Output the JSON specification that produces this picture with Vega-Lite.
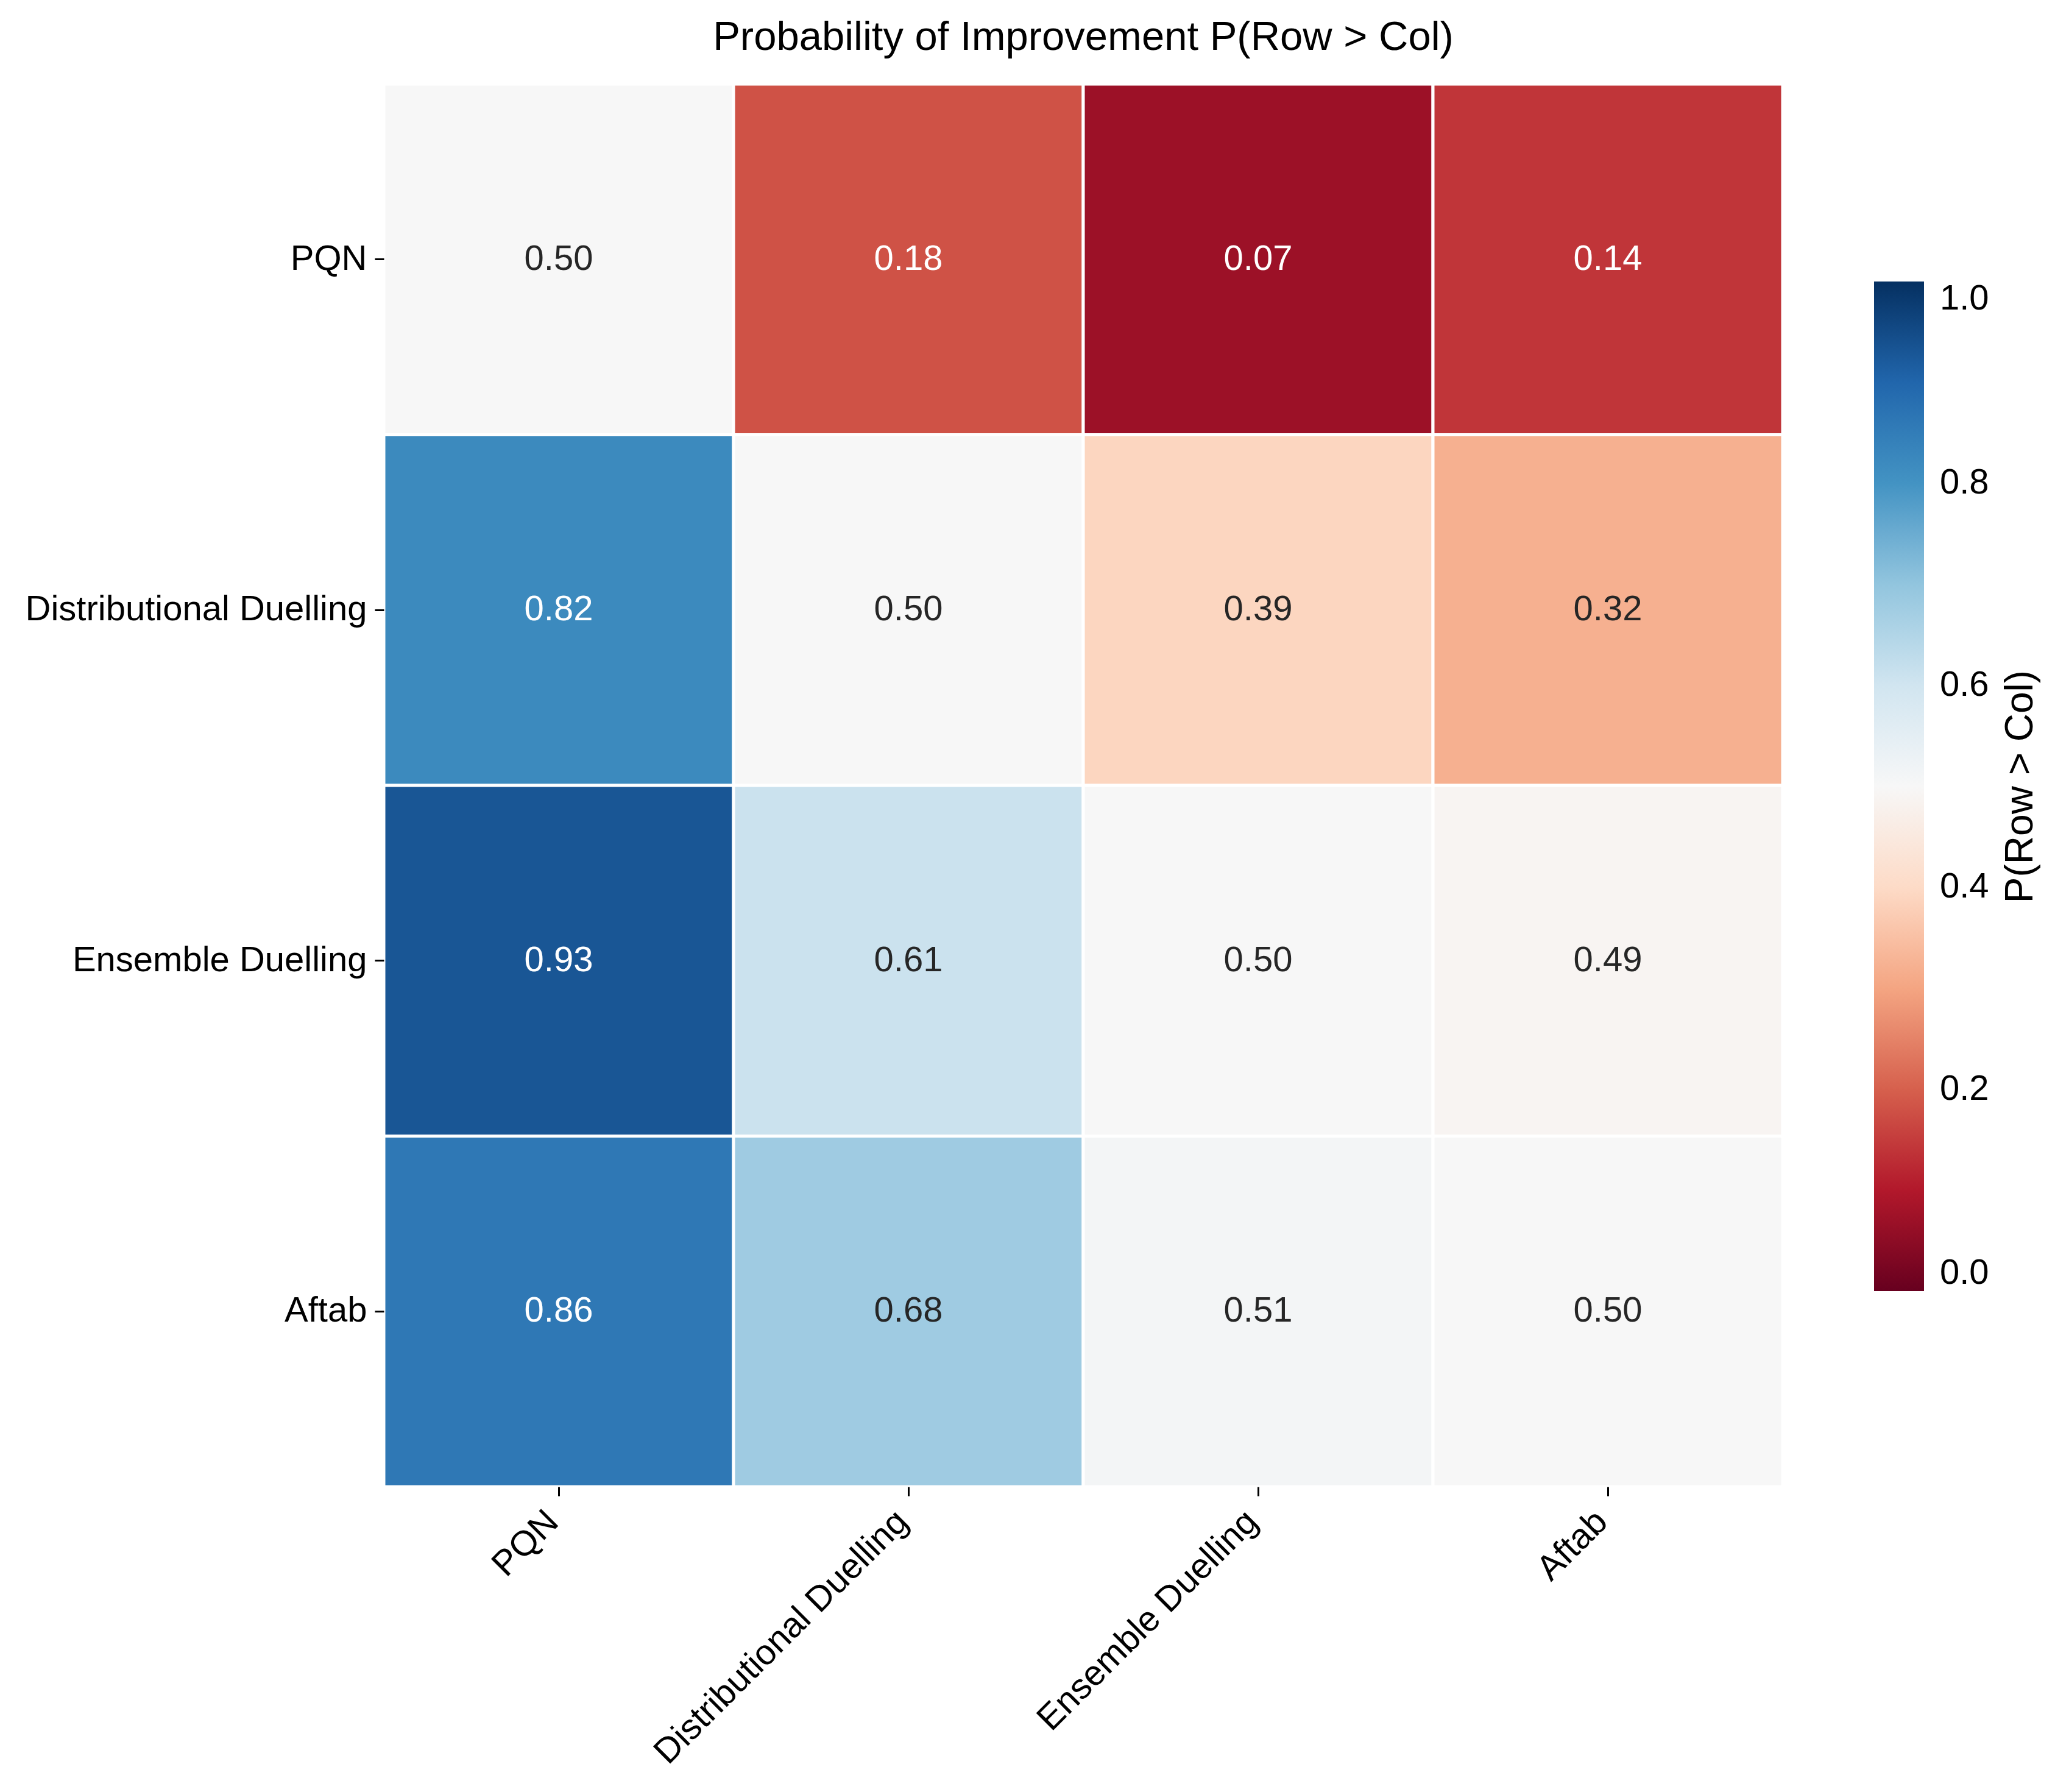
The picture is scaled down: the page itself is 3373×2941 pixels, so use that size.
{
  "$schema": "https://vega.github.io/schema/vega-lite/v6.json",
  "autosize": {"type": "none"},
  "padding": {"left": 630, "top": 138, "right": 447, "bottom": 501},
  "width": 2296,
  "height": 2302,
  "background": "white",
  "config": {
    "font": "Liberation Sans",
    "view": {"stroke": null},
    "title": {"fontSize": 67, "fontWeight": "normal", "color": "#000000", "anchor": "middle", "offset": 40, "font": "Liberation Sans"},
    "axis": {"labelFont": "Liberation Sans", "labelFontSize": 58, "labelColor": "#000000", "labelLimit": 0, "tickColor": "#000000", "tickWidth": 3, "tickSize": 15, "labelPadding": 13, "domain": false, "grid": false, "title": null}
  },
  "title": "Probability of Improvement P(Row > Col)",
  "data": {
    "values": [
      {"row": "PQN", "col": "PQN", "p": 0.50},
      {"row": "PQN", "col": "Distributional Duelling", "p": 0.18},
      {"row": "PQN", "col": "Ensemble Duelling", "p": 0.07},
      {"row": "PQN", "col": "Aftab", "p": 0.14},
      {"row": "Distributional Duelling", "col": "PQN", "p": 0.82},
      {"row": "Distributional Duelling", "col": "Distributional Duelling", "p": 0.50},
      {"row": "Distributional Duelling", "col": "Ensemble Duelling", "p": 0.39},
      {"row": "Distributional Duelling", "col": "Aftab", "p": 0.32},
      {"row": "Ensemble Duelling", "col": "PQN", "p": 0.93},
      {"row": "Ensemble Duelling", "col": "Distributional Duelling", "p": 0.61},
      {"row": "Ensemble Duelling", "col": "Ensemble Duelling", "p": 0.50},
      {"row": "Ensemble Duelling", "col": "Aftab", "p": 0.49},
      {"row": "Aftab", "col": "PQN", "p": 0.86},
      {"row": "Aftab", "col": "Distributional Duelling", "p": 0.68},
      {"row": "Aftab", "col": "Ensemble Duelling", "p": 0.51},
      {"row": "Aftab", "col": "Aftab", "p": 0.50}
    ]
  },
  "encoding": {
    "x": {
      "field": "col", "type": "nominal",
      "sort": ["PQN", "Distributional Duelling", "Ensemble Duelling", "Aftab"],
      "scale": {"paddingInner": 0, "paddingOuter": 0},
      "axis": {"labelAngle": -45, "labelAlign": "right", "labelBaseline": "top", "labelOffset": -30, "orient": "bottom"}
    },
    "y": {
      "field": "row", "type": "nominal",
      "sort": ["PQN", "Distributional Duelling", "Ensemble Duelling", "Aftab"],
      "scale": {"paddingInner": 0, "paddingOuter": 0},
      "axis": {"orient": "left"}
    }
  },
  "layer": [
    {
      "mark": {"type": "rect", "stroke": "white", "strokeWidth": 5},
      "encoding": {
        "color": {
          "field": "p", "type": "quantitative",
          "scale": {
            "domain": [0, 0.1, 0.2, 0.3, 0.4, 0.5, 0.6, 0.7, 0.8, 0.9, 1.0],
            "range": ["#67001f", "#b2182b", "#d6604d", "#f4a582", "#fddbc7", "#f7f7f7", "#d1e5f0", "#92c5de", "#4393c3", "#2166ac", "#053061"],
            "interpolate": "rgb"
          },
          "legend": {
            "title": "P(Row > Col)",
            "orient": "none",
            "legendX": 2446,
            "legendY": 324,
            "direction": "vertical",
            "gradientLength": 1657,
            "gradientThickness": 82,
            "gradientStrokeWidth": 0,
            "values": [0, 0.2, 0.4, 0.6, 0.8, 1.0],
            "format": ".1f",
            "labelFont": "Liberation Sans",
            "labelFontSize": 58,
            "labelColor": "#000000",
            "labelOffset": 26,
            "labelBaseline": "middle",
            "labelOverlap": false,
            "labelLimit": 0,
            "titleOrient": "right",
            "titleAnchor": "middle",
            "titleLimit": 0,
            "titleFont": "Liberation Sans",
            "titleFontSize": 64,
            "titleFontWeight": "normal",
            "titleColor": "#000000",
            "titlePadding": 20,
            "encode": {"title": {"update": {"angle": {"value": -90}, "baseline": {"value": "top"}}}}
          }
        }
      }
    },
    {
      "mark": {"type": "text", "font": "Liberation Sans", "fontSize": 58, "align": "center", "baseline": "middle"},
      "encoding": {
        "text": {"field": "p", "type": "quantitative", "format": ".2f"},
        "color": {
          "condition": {"test": "datum.p < 0.25 || datum.p > 0.75", "value": "#ffffff"},
          "value": "#262626"
        }
      }
    }
  ]
}
